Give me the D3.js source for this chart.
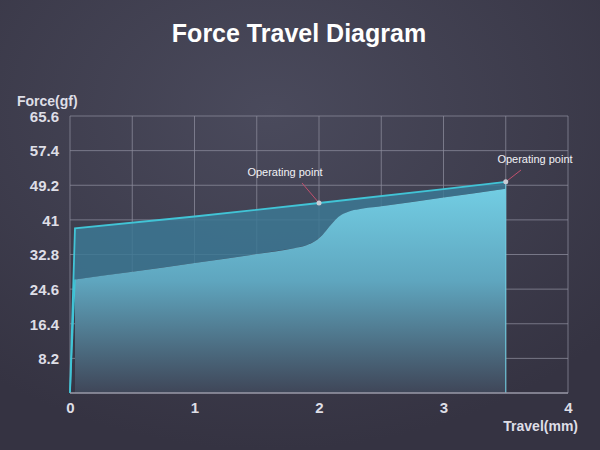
<!DOCTYPE html>
<html>
<head>
<meta charset="utf-8">
<script src="https://d3js.org/d3.v7.min.js"></script>
<style>
  html, body { margin: 0; padding: 0; background: #383746; }
  svg text { font-family: "Liberation Sans", Arial, sans-serif; }
  .tick text { fill: #dedee6; font-size: 15px; font-weight: bold; }
  .grid line { stroke: #8c8c9c; stroke-opacity: 0.75; stroke-width: 1px; }
</style>
</head>
<body>
<svg id="chart"></svg>
<script>
// tick values
var yTicks = [8.2, 16.4, 24.6, 32.8, 41, 49.2, 57.4, 65.6];
var xTicks = [0, 1, 2, 3, 4];
var xGrid = [0, 0.5, 1, 1.5, 2, 2.5, 3, 3.5, 4];

// press stroke (lower curve)
var pressX = [0, 0.04, 0.5, 1.0, 1.5, 1.8, 1.9, 1.97, 2.03, 2.08, 2.13, 2.18, 2.24, 2.32, 2.5, 3.0, 3.5];
var pressY = [0, 26.9, 28.7, 30.8, 32.9, 34.3, 35.0, 36.0, 37.5, 39.3, 41.0, 42.2, 43.0, 43.5, 44.2, 46.3, 48.4];

// release stroke (upper curve)
var releaseX = [0, 0.04, 1.0, 2.0, 3.0, 3.5];
var releaseY = [0, 39.0, 41.8, 45.0, 48.3, 50.0];

// operating points
var opX = [2.0, 3.5];
var opY = [45.0, 50.0];
var opLabel = ["Operating point", "Operating point"];

var W = 600, H = 450;
var m = { left: 70, right: 32, top: 116, bottom: 57 };

var svg = d3.select("#chart").attr("width", W).attr("height", H);
var defs = svg.append("defs");

var bg = defs.append("radialGradient").attr("id", "bg")
  .attr("cx", "45%").attr("cy", "25%").attr("r", "75%");
bg.append("stop").attr("offset", "0%").attr("stop-color", "#4a4a5c");
bg.append("stop").attr("offset", "100%").attr("stop-color", "#353342");

var fillGrad = defs.append("linearGradient").attr("id", "fillGrad")
  .attr("x1", 0).attr("y1", 0).attr("x2", 0).attr("y2", 1);
fillGrad.append("stop").attr("offset", "0%").attr("stop-color", "#72cde3");
fillGrad.append("stop").attr("offset", "45%").attr("stop-color", "#5fa6bf");
fillGrad.append("stop").attr("offset", "100%").attr("stop-color", "#3f4658");

svg.append("rect").attr("width", W).attr("height", H).attr("fill", "url(#bg)");

svg.append("text")
  .attr("x", 299).attr("y", 42)
  .attr("text-anchor", "middle")
  .attr("fill", "#ffffff")
  .style("font-size", "25px").style("font-weight", "bold")
  .text("Force Travel Diagram");

var x = d3.scaleLinear().domain([0, 4]).range([m.left, W - m.right]);
var y = d3.scaleLinear().domain([0, 65.6]).range([H - m.bottom, m.top]);

// grid
var grid = svg.append("g").attr("class", "grid");
grid.selectAll(".hl").data(yTicks).enter().append("line")
  .attr("x1", x(0)).attr("x2", x(4))
  .attr("y1", function(d) { return y(d); }).attr("y2", function(d) { return y(d); });
grid.selectAll(".vl").data(xGrid).enter().append("line")
  .attr("y1", y(0)).attr("y2", y(65.6))
  .attr("x1", function(d) { return x(d); }).attr("x2", function(d) { return x(d); });

var pressPts = pressX.map(function(d, i) { return [d, pressY[i]]; });
var releasePts = releaseX.map(function(d, i) { return [d, releaseY[i]]; });

var straight = d3.line()
  .x(function(d) { return x(d[0]); })
  .y(function(d) { return y(d[1]); });

// hysteresis band between the curves
svg.append("path")
  .attr("d", straight(releasePts.concat(pressPts.slice().reverse())))
  .attr("fill", "#3c7894").attr("fill-opacity", 0.85);

// press area
var area = d3.area()
  .x(function(d) { return x(d[0]); })
  .y0(y(0))
  .y1(function(d) { return y(d[1]); })
  .curve(d3.curveMonotoneX);
svg.append("path")
  .attr("d", area(pressPts.slice(1)))
  .attr("fill", "url(#fillGrad)");

// press edge
svg.append("path")
  .attr("d", straight(pressPts.slice(0, 2)))
  .attr("fill", "none").attr("stroke", "#41c4d6").attr("stroke-width", 1.5);

// release line
svg.append("path")
  .attr("d", straight(releasePts))
  .attr("fill", "none").attr("stroke", "#41c4d6").attr("stroke-width", 1.8);
svg.append("line")
  .attr("x1", x(3.5)).attr("x2", x(3.5))
  .attr("y1", y(releaseY[releaseY.length - 1])).attr("y2", y(0))
  .attr("stroke", "#6fd0e4").attr("stroke-width", 1);

// bottom axis line
svg.append("line")
  .attr("x1", x(0)).attr("x2", x(4)).attr("y1", y(0)).attr("y2", y(0))
  .attr("stroke", "#9a9aa8").attr("stroke-width", 1.5);

// axes
var yAxis = svg.append("g")
  .attr("transform", "translate(" + (m.left - 8) + ",0)")
  .call(d3.axisLeft(y).tickValues(yTicks).tickSize(0).tickFormat(function(d) { return d; }));
yAxis.select(".domain").remove();
yAxis.selectAll("text").attr("dy", "0.35em");

var xAxis = svg.append("g")
  .attr("transform", "translate(0," + (y(0) + 6) + ")")
  .call(d3.axisBottom(x).tickValues(xTicks).tickSize(0).tickFormat(d3.format("d")));
xAxis.select(".domain").remove();
xAxis.selectAll("text").attr("dy", "0.71em");

svg.append("text").attr("x", 17).attr("y", 106)
  .attr("fill", "#dedee6").style("font-size", "14px").style("font-weight", "bold")
  .text("Force(gf)");
svg.append("text").attr("x", 578).attr("y", 431).attr("text-anchor", "end")
  .attr("fill", "#dedee6").style("font-size", "14px").style("font-weight", "bold")
  .text("Travel(mm)");

// operating points with leaders
var labelPos = [[285, 176], [535, 163]];
var leaderStart = [[302, 183], [521, 170]];
opX.forEach(function(d, i) {
  svg.append("line")
    .attr("x1", leaderStart[i][0]).attr("y1", leaderStart[i][1])
    .attr("x2", x(d)).attr("y2", y(opY[i]))
    .attr("stroke", "#c2506e").attr("stroke-width", 1);
  svg.append("circle")
    .attr("cx", x(d)).attr("cy", y(opY[i])).attr("r", 2.5)
    .attr("fill", "#c9ccd4");
  svg.append("text")
    .attr("x", labelPos[i][0]).attr("y", labelPos[i][1])
    .attr("text-anchor", "middle")
    .attr("fill", "#f2f2f6").style("font-size", "11px")
    .text(opLabel[i]);
});
</script>
</body>
</html>
